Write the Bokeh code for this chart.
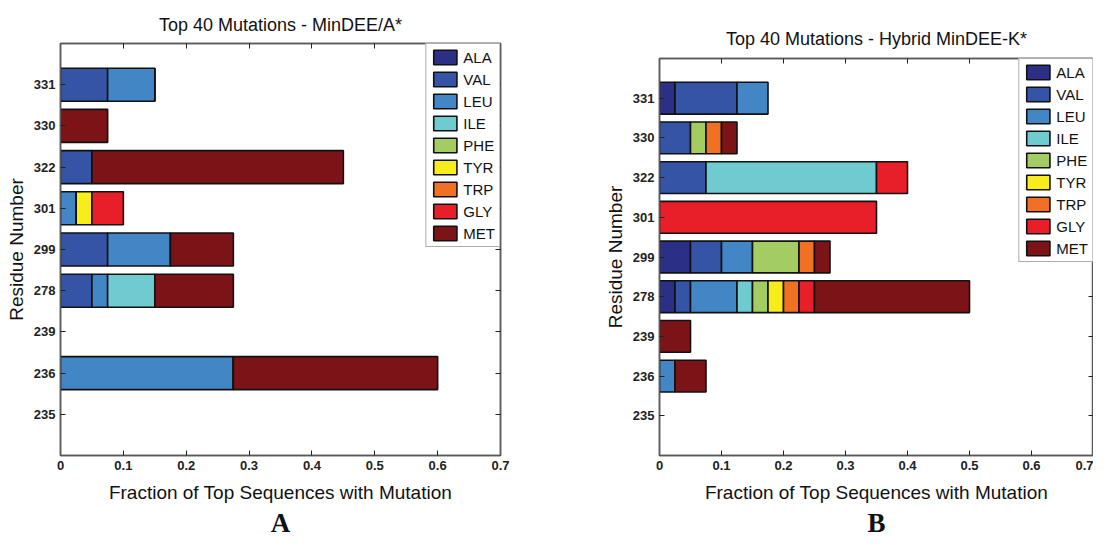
from bokeh.plotting import figure
from bokeh.layouts import row, column
from bokeh.models import (ColumnDataSource, FixedTicker, LinearAxis, CategoricalAxis,
                          Title, Range1d, FactorRange, Legend, LegendItem)
from bokeh.embed import file_html
from bokeh.resources import INLINE

# ---------------- data ----------------
residues = ["235", "236", "239", "278", "299", "301", "322", "330", "331"]
amino_acids = ["ALA", "VAL", "LEU", "ILE", "PHE", "TYR", "TRP", "GLY", "MET"]
aa_colors = ["#2b2f86", "#3554a6", "#4386c6", "#6fcbcf", "#a3cd62",
             "#f9ec1b", "#f07124", "#e81e28", "#7c1417"]
x_ticks = [0, 0.1, 0.2, 0.3, 0.4, 0.5, 0.6, 0.7]

# Panel A: MinDEE/A*   (values per residue, same order as `residues`)
a_ala = [0, 0, 0, 0, 0, 0, 0, 0, 0]
a_val = [0, 0, 0, 0.05, 0.075, 0, 0.05, 0, 0.075]
a_leu = [0, 0.275, 0, 0.025, 0.1, 0.025, 0, 0, 0.075]
a_ile = [0, 0, 0, 0.075, 0, 0, 0, 0, 0]
a_phe = [0, 0, 0, 0, 0, 0, 0, 0, 0]
a_tyr = [0, 0, 0, 0, 0, 0.025, 0, 0, 0]
a_trp = [0, 0, 0, 0, 0, 0, 0, 0, 0]
a_gly = [0, 0, 0, 0, 0, 0.05, 0, 0, 0]
a_met = [0, 0.325, 0, 0.125, 0.1, 0, 0.4, 0.075, 0]

# Panel B: Hybrid MinDEE-K*
b_ala = [0, 0, 0, 0.025, 0.05, 0, 0, 0, 0.025]
b_val = [0, 0, 0, 0.025, 0.05, 0, 0.075, 0.05, 0.1]
b_leu = [0, 0.025, 0, 0.075, 0.05, 0, 0, 0, 0.05]
b_ile = [0, 0, 0, 0.025, 0, 0, 0.275, 0, 0]
b_phe = [0, 0, 0, 0.025, 0.075, 0, 0, 0.025, 0]
b_tyr = [0, 0, 0, 0.025, 0, 0, 0, 0, 0]
b_trp = [0, 0, 0, 0.025, 0.025, 0, 0, 0.025, 0]
b_gly = [0, 0, 0, 0.025, 0, 0.35, 0.05, 0, 0]
b_met = [0, 0.05, 0.05, 0.25, 0.025, 0, 0, 0.025, 0]

panel_a = [a_ala, a_val, a_leu, a_ile, a_phe, a_tyr, a_trp, a_gly, a_met]
panel_b = [b_ala, b_val, b_leu, b_ile, b_phe, b_tyr, b_trp, b_gly, b_met]

FONT = "Liberation Sans"
FRAME = "#5a5a5a"


def make_panel(title, series, letter, width, height, mb_left, mb_right, mb_top, mb_bottom,
               title_standoff):
    p = figure(width=width, height=height, output_backend="svg", toolbar_location=None,
               y_range=FactorRange(*residues, range_padding=1 / 9),
               x_range=Range1d(0, 0.7),
               min_border_left=mb_left, min_border_right=mb_right,
               min_border_top=mb_top, min_border_bottom=mb_bottom)
    p.xgrid.visible = False
    p.ygrid.visible = False
    p.outline_line_color = FRAME
    p.outline_line_width = 1.5
    p.background_fill_color = "white"
    p.border_fill_color = "white"

    p.title.text = title
    p.title.text_font = FONT
    p.title.text_font_size = "18px"
    p.title.text_font_style = "normal"
    p.title.align = "center"
    p.title.text_color = "#111111"
    p.title.standoff = title_standoff

    # stacked bars (zero-width segments are kept only on rows that have bars,
    # where they coincide with existing bar edges)
    totals = [sum(s[i] for s in series) for i in range(len(residues))]
    cum = [0.0] * len(residues)
    items = []
    for aa, color, vals in zip(amino_acids, aa_colors, series):
        ys, lefts, rights = [], [], []
        for i, v in enumerate(vals):
            if v > 0 or (totals[i] > 0 and not any(vals)):
                ys.append(residues[i])
                lefts.append(cum[i])
                rights.append(cum[i] + v)
            cum[i] += v
        src = ColumnDataSource(dict(y=ys, left=lefts, right=rights))
        r = p.hbar(y="y", left="left", right="right", height=0.8, source=src,
                   fill_color=color, line_color="#111111", line_width=1.6)
        items.append(LegendItem(label=aa, renderers=[r], index=0))

    legend = Legend(items=items, location="top_right", margin=0, padding=4, spacing=4,
                    glyph_width=29, glyph_height=18, label_standoff=4,
                    label_text_font=FONT, label_text_font_size="15px",
                    label_text_color="#111111",
                    border_line_color=FRAME, border_line_width=1.5,
                    background_fill_color="white", background_fill_alpha=1.0)
    p.add_layout(legend)

    # axes
    for ax in (p.xaxis[0], p.yaxis[0]):
        ax.major_tick_in = 5
        ax.major_tick_out = 0
        ax.minor_tick_in = 0
        ax.minor_tick_out = 0
        ax.axis_line_color = FRAME
        ax.axis_line_width = 1.5
        ax.major_tick_line_color = "#222222"
        ax.major_label_text_font = FONT
        ax.major_label_text_font_size = "13px"
        ax.major_label_text_font_style = "bold"
        ax.major_label_text_color = "#222222"
        ax.axis_label_text_font = FONT
        ax.axis_label_text_font_size = "19px"
        ax.axis_label_text_font_style = "normal"
        ax.axis_label_text_color = "#111111"

    p.xaxis[0].ticker = FixedTicker(ticks=x_ticks)
    p.xaxis[0].axis_label = "Fraction of Top Sequences with Mutation"
    p.xaxis[0].major_label_standoff = 5
    p.xaxis[0].axis_label_standoff = 9
    p.yaxis[0].axis_label = "Residue Number"
    p.yaxis[0].major_label_standoff = 5
    p.yaxis[0].axis_label_standoff = 4

    top = LinearAxis(ticker=FixedTicker(ticks=x_ticks), major_tick_in=5, major_tick_out=0,
                     minor_tick_in=0, minor_tick_out=0, major_label_text_font_size="0px",
                     major_label_text_color=None, major_label_standoff=0,
                     axis_label_standoff=0,
                     axis_line_color=FRAME, axis_line_width=1.5,
                     major_tick_line_color="#222222")
    p.add_layout(top, "above")
    right = CategoricalAxis(major_tick_in=5, major_tick_out=0,
                            major_label_text_font_size="0px", major_label_text_color=None,
                            major_label_standoff=0, axis_label_standoff=0,
                            axis_line_color=FRAME, axis_line_width=1.5,
                            major_tick_line_color="#222222")
    p.add_layout(right, "right")

    p.add_layout(Title(text=letter, align="center", text_font="Liberation Serif",
                       text_font_size="27px", text_font_style="bold",
                       text_color="#111111", standoff=0), "below")
    return p


pa = make_panel("Top 40 Mutations - MinDEE/A*", panel_a, "A",
                560, 537, 60, 60, 43, 0, 17)
pb = make_panel("Top 40 Mutations - Hybrid MinDEE-K*", panel_b, "B",
                533, 537, 99, 0, 58, 0, 19)

layout = row(column(pa), column(pb))
open("out.html", "w").write(file_html(layout, INLINE))
